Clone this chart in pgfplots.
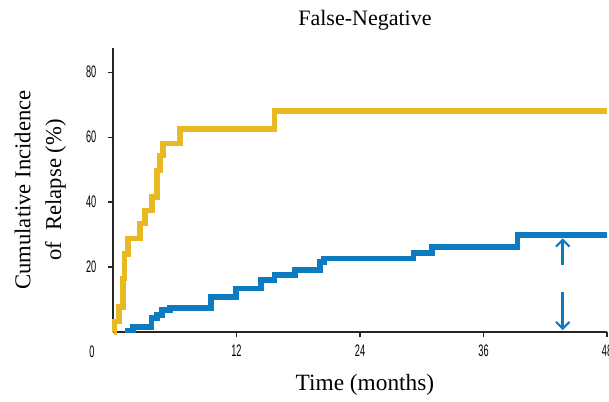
\documentclass[border=0pt]{standalone}
\usepackage{fontspec}
\setmainfont{Liberation Serif}
\newfontfamily\tickfont[FakeStretch=0.55]{Liberation Sans}
\usepackage{pgfplots}
\pgfplotsset{compat=1.18}
\usetikzlibrary{arrows.meta}

\definecolor{fnyellow}{HTML}{E8B923}
\definecolor{fnblue}{HTML}{0C7BC0}

\begin{document}
\begin{tikzpicture}
\begin{axis}[
  at={(0,0)}, anchor=south west,
  scale only axis, width=370.5pt, height=213pt,
  xmin=0, xmax=48, ymin=0, ymax=87.4,
  axis x line*=bottom, axis y line*=left,
  axis line style={line width=1.3pt, color=black!85},
  xtick={12,24,36,48}, ytick={20,40,60,80},
  extra x ticks={0},
  extra x tick style={major tick length=0pt, xticklabel style={xshift=-15.75pt, yshift=-5pt}},
  tick align=outside, major tick length=4pt,
  tick style={line width=0.8pt, black!85},
  /pgf/number format/assume math mode=true,
  ticklabel style={font=\fontsize{12.5}{13}\tickfont},
  xticklabel style={yshift=-2pt},
  yticklabel style={xshift=-5pt},
  title={False-Negative},
  title style={font=\fontsize{16.5}{18}\selectfont, at={(axis description cs:0.51,1.07)}, anchor=center},
  xlabel={Time (months)},
  xlabel style={font=\fontsize{17.5}{19}\selectfont, at={(axis description cs:0.51,-0.187)}, anchor=center},
  ylabel={Cumulative Incidence\\of~ Relapse (\%)},
  ylabel style={font=\fontsize{17}{23}\selectfont, align=center, at={(axis description cs:-0.147,0.5)}, anchor=center},
  clip=false,
]
\addplot[const plot mark left, fnyellow, line width=4.3pt] coordinates {
  (0.1,0) (0.15,3.2) (0.57,7.8) (0.96,16.5) (1.13,24) (1.45,28.8) (2.6,33.4)
  (3.1,37.4) (3.76,41.5) (4.25,49.7) (4.57,54.3) (4.84,58) (6.54,62.5)
  (15.7,68) (48,68)
};
\addplot[const plot mark left, fnblue, line width=4.3pt] coordinates {
  (1.2,0.5) (1.95,1.6) (3.75,4.3) (4.25,5.2) (4.74,6.7) (5.56,7.4) (9.5,10.8)
  (11.95,13.4) (14.4,16) (15.7,17.5) (17.7,19) (20.1,21.6) (20.5,22.6)
  (29.2,24.3) (31,26.2) (39.3,29.8) (48,29.8)
};
\addplot[fnblue, line width=2pt, -{Straight Barb[length=5pt,width=10pt,line width=1.6pt]}] coordinates {(43.7,20.5) (43.7,28.8)};
\addplot[fnblue, line width=2pt, -{Straight Barb[length=5pt,width=10pt,line width=1.6pt]}] coordinates {(43.7,12.3) (43.7,0.6)};
\end{axis}
\pgfresetboundingbox
\path (-84.75pt,-51.75pt) rectangle (372pt,249pt);
\end{tikzpicture}
\end{document}
